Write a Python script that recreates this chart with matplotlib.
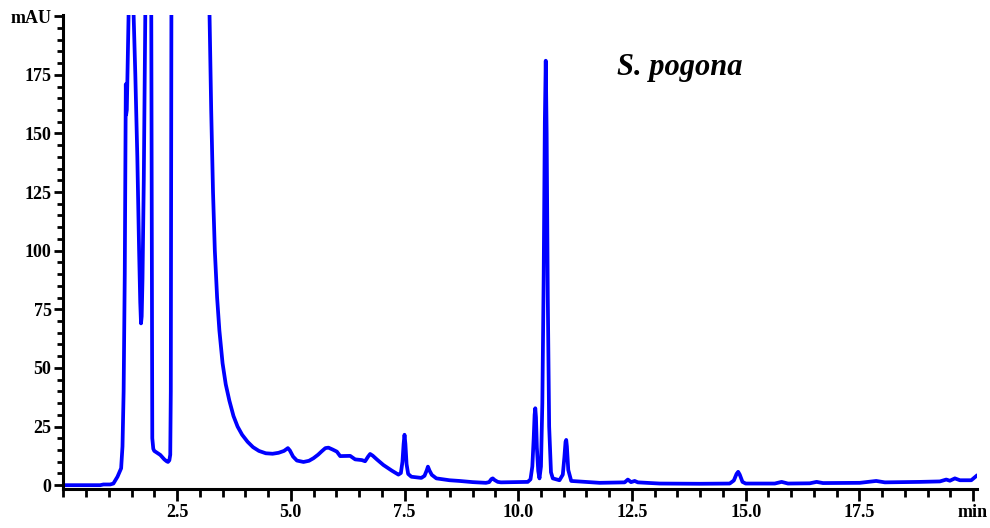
import numpy as np
import matplotlib.pyplot as plt
from matplotlib.ticker import MultipleLocator

time_min = [0.0, 0.81, 0.88, 1.03, 1.10, 1.19, 1.27, 1.30, 1.325, 1.35, 1.373,
            1.38, 1.395, 1.439, 1.46, 1.52, 1.538, 1.582, 1.626, 1.665, 1.69,
            1.707, 1.722, 1.74, 1.768, 1.801, 1.834, 1.900, 1.933, 1.944, 1.955,
            1.977, 1.999, 2.131, 2.219, 2.27, 2.30, 2.330, 2.350, 2.362, 2.373,
            2.395, 3.12, 3.214, 3.25, 3.29, 3.33, 3.38, 3.43, 3.50, 3.57, 3.65,
            3.74, 3.83, 3.93, 4.05, 4.17, 4.30, 4.45, 4.60, 4.73, 4.85, 4.936,
            4.98, 5.05, 5.134, 5.279, 5.40, 5.499, 5.60, 5.683, 5.76, 5.828,
            5.92, 6.013, 6.085, 6.305, 6.415, 6.562, 6.634, 6.70, 6.744, 6.80,
            6.891, 7.036, 7.221, 7.366, 7.42, 7.455, 7.48, 7.50, 7.52, 7.545,
            7.58, 7.65, 7.87, 7.94, 7.99, 8.015, 8.05, 8.10, 8.20, 8.49, 8.71,
            9.00, 9.29, 9.36, 9.41, 9.44, 9.48, 9.55, 9.62, 10.21, 10.27, 10.31,
            10.34, 10.36, 10.375, 10.39, 10.41, 10.44, 10.467, 10.50, 10.53,
            10.56, 10.585, 10.605, 10.625, 10.65, 10.68, 10.72, 10.76, 10.907,
            10.98, 11.015, 11.04, 11.055, 11.07, 11.10, 11.165, 11.79, 12.34,
            12.41, 12.48, 12.56, 12.63, 13.11, 13.99, 14.65, 14.74, 14.80,
            14.835, 14.87, 14.93, 15.0, 15.64, 15.79, 15.93, 16.41, 16.56, 16.70,
            17.51, 17.87, 18.06, 18.83, 19.27, 19.41, 19.49, 19.60, 19.71, 19.96,
            20.07]
absorb_mau = [0.0, 0.0, 0.3, 0.3, 0.7, 3.6, 7.2, 16.5, 40.0, 90.0, 171.0,
              158.0, 160.0, 205.0, 240.0, 240.0, 205.0, 175.0, 140.0, 100.0, 78.0,
              69.0, 72.0, 88.0, 130.0, 200.0, 240.0, 240.0, 200.0, 100.0, 20.0,
              15.5, 14.6, 12.9, 11.0, 10.2, 9.9, 10.6, 13.0, 40.0, 200.0,
              260.0, 260.0, 200.0, 160.0, 125.0, 100.0, 80.0, 66.0, 52.0, 43.0, 36.0,
              29.5, 25.0, 21.5, 18.5, 16.2, 14.6, 13.6, 13.4, 13.8, 14.6, 15.8,
              14.8, 12.2, 10.5, 9.9, 10.4, 11.5, 13.0, 14.5, 15.8, 16.0,
              15.2, 14.3, 12.4, 12.5, 11.0, 10.7, 10.2, 12.2, 13.3, 12.6,
              11.0, 8.6, 6.2, 4.5, 5.2, 10.0, 17.5, 21.5, 17.5, 9.0,
              4.8, 3.6, 3.1, 4.0, 6.4, 7.9, 6.2, 4.4, 2.9, 2.1, 1.8,
              1.3, 1.0, 1.3, 2.6, 2.9, 2.2, 1.4, 1.2, 1.4, 2.5, 8.0,
              20.0, 30.0, 32.8, 29.0, 16.0, 6.0, 2.9, 8.0, 35.0,
              90.0, 155.0, 181.0, 150.0, 80.0, 25.0, 5.5, 2.9, 2.1,
              4.5, 12.0, 18.5, 19.3, 16.5, 6.5, 1.8, 1.0, 1.2,
              2.4, 1.3, 1.8, 1.2, 0.7, 0.6, 0.7, 2.0, 4.8,
              5.7, 4.5, 1.4, 0.7, 0.7, 1.4, 0.7, 0.8, 1.4, 0.9,
              1.0, 1.8, 1.2, 1.4, 1.6, 2.4, 1.9, 2.9, 2.1, 2.1,
              3.9]

x_ticks = [2.5, 5.0, 7.5, 10.0, 12.5, 15.0, 17.5, 20.0]
x_labels = ['2.5', '5.0', '7.5', '10.0', '12.5', '15.0', '17.5', 'min']
y_ticks = [0, 25, 50, 75, 100, 125, 150, 175, 200]
y_labels = ['0', '25', '50', '75', '100', '125', '150', '175', 'mAU']

plt.rcParams['font.family'] = ['Liberation Serif', 'DejaVu Serif']
plt.rcParams['font.weight'] = 'bold'

fig = plt.figure(figsize=(9.9, 5.28), dpi=100)
ax = fig.add_axes([0.064, 0.074, 0.9226, 0.8976])

ax.plot(time_min, absorb_mau, color='#0000ff', lw=2.7, solid_joinstyle='round')

ax.set_xlim(0, 20.08)
ax.set_ylim(-1.6, 200.5)

ax.set_xticks(x_ticks)
ax.set_xticklabels(x_labels)
ax.set_yticks(y_ticks)
ax.set_yticklabels(y_labels)
ax.xaxis.set_minor_locator(MultipleLocator(0.5))
ax.yaxis.set_minor_locator(MultipleLocator(5))

for s in ['top', 'right']:
    ax.spines[s].set_visible(False)
for s in ['left', 'bottom']:
    ax.spines[s].set_linewidth(2.2)

ax.tick_params(axis='both', which='major', width=2.0, labelsize=13, pad=2)
ax.tick_params(axis='x', which='major', length=8.5)
ax.tick_params(axis='y', which='major', length=6.5)
ax.tick_params(axis='x', which='minor', width=2.0, length=5.5)
ax.tick_params(axis='y', which='minor', width=2.0, length=4.5)

ax.text(12.17, 175, 'S. pogona', fontsize=22, fontweight='bold',
        fontstyle='italic', va='baseline', ha='left')

fig.savefig('out.png', dpi=100)
